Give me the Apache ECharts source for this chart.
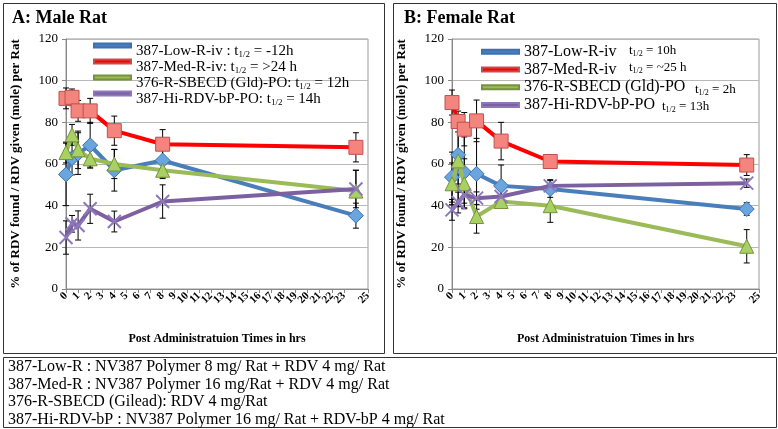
<!DOCTYPE html>
<html>
<head>
<meta charset="utf-8">
<script src="https://cdn.jsdelivr.net/npm/echarts@6/dist/echarts.min.js"></script>
<style>
  html, body { margin: 0; padding: 0; background: #fff; }
  #chart { width: 778px; height: 429px; }
</style>
</head>
<body>
<div id="chart"></div>
<script>
// sampling times (hours)
const times = [0, 0.5, 1, 2, 4, 8, 24];
const seriesNames = ['387-Low-R-iv', '387-Med-R-iv', '376-R-SBECD (Gld)-PO', '387-Hi-RDV-bP-PO'];

// panel A: male rat
const lowA = [55, 62.8, 65, 69, 57, 61.7, 35.2];
const medA = [91.5, 92, 85.5, 85.5, 76, 69.5, 68];
const sbecdA = [65.5, 74, 66.8, 62.5, 60, 57, 47];
const hiA = [24.7, 31.3, 30.5, 38.5, 32.4, 42, 48];
const lowErrA = [15, 8, 10, 11, 10, 8, 6];
const medErrA = [5, 4, 5, 6, 7, 7, 7];
const sbecdErrA = [5, 5, 9, 4, 7, 4, 10];
const hiErrA = [8, 4, 7, 7, 5, 8, 9];
const halfLifeA = ['-12h', '>24 h', '12h', '14h'];

// panel B: female rat
const lowB = [53.7, 64.4, 56, 55.3, 49.5, 48, 38.4];
const medB = [89.5, 80.4, 76.7, 80.7, 71, 61.2, 59.5];
const sbecdB = [50.5, 61.5, 50.5, 34.8, 42, 40, 20.5];
const hiB = [38, 41.5, 45.2, 43.6, 44.4, 49.5, 50.8];
const lowErrB = [12, 14, 17, 17, 10, 4, 3];
const medErrB = [6, 5, 8, 10, 9, 3, 5];
const sbecdErrB = [10, 22, 12, 8, 3, 8, 8];
const hiErrB = [5, 5, 4, 3, 3, 3, 2];
const halfLifeB = ['10h', '~25 h', '2h', '13h'];

const footnotes = [
  '387-Low-R : NV387 Polymer 8 mg/ Rat + RDV 4 mg/ Rat',
  '387-Med-R : NV387 Polymer 16 mg/Rat + RDV 4 mg/ Rat',
  '376-R-SBECD (Gilead): RDV 4 mg/Rat',
  '387-Hi-RDV-bP : NV387 Polymer 16 mg/ Rat + RDV-bP 4 mg/ Rat'
];

const SERIF = '"Liberation Serif", "Times New Roman", serif';
const lineColors = ['#4a7ebb', '#ff0000', '#9bbb59', '#7d60a0'];
const markers = [
  { symbol: 'diamond', size: 15, fill: '#6aa6dd', border: '#3c72b0' },
  { symbol: 'rect', size: 14, fill: '#f4857e', border: '#c0504d' },
  { symbol: 'triangle', size: 14, fill: '#a8d063', border: '#76933c' },
  { symbol: 'path://M0,0 L10,10 M10,0 L0,10', size: 13, fill: 'none', border: '#8e78bd' }
];

const chart = echarts.init(document.getElementById('chart'));

function lineSeries(idx, values, gridIdx) {
  const m = markers[idx];
  return {
    name: seriesNames[idx],
    type: 'line',
    xAxisIndex: gridIdx,
    yAxisIndex: gridIdx,
    data: times.map((t, i) => [t, values[i]]),
    symbol: m.symbol,
    symbolSize: m.size,
    showAllSymbol: true,
    lineStyle: { color: lineColors[idx], width: 4 },
    itemStyle: { color: m.fill, borderColor: m.border, borderWidth: idx === 3 ? 2 : 1 },
    z: 3 + idx
  };
}

function errSeries(values, errs, gridIdx) {
  return {
    type: 'custom',
    xAxisIndex: gridIdx,
    yAxisIndex: gridIdx,
    silent: true,
    z: 2,
    data: times.map((t, i) => [t, values[i] - errs[i], values[i] + errs[i]]),
    encode: { x: 0, y: [1, 2] },
    renderItem: function (params, api) {
      const lo = api.coord([api.value(0), api.value(1)]);
      const hi = api.coord([api.value(0), api.value(2)]);
      const w = 3;
      const st = { stroke: '#000', lineWidth: 1 };
      return {
        type: 'group',
        children: [
          { type: 'line', shape: { x1: lo[0], y1: lo[1], x2: hi[0], y2: hi[1] }, style: st },
          { type: 'line', shape: { x1: lo[0] - w, y1: lo[1], x2: lo[0] + w, y2: lo[1] }, style: st },
          { type: 'line', shape: { x1: hi[0] - w, y1: hi[1], x2: hi[0] + w, y2: hi[1] }, style: st }
        ]
      };
    }
  };
}

function xAxis(gridIdx) {
  return {
    type: 'value',
    gridIndex: gridIdx,
    min: 0,
    max: 25,
    interval: 1,
    name: 'Post Administratuion Times in hrs',
    nameLocation: 'middle',
    nameGap: 44,
    nameTextStyle: { fontFamily: SERIF, fontWeight: 'bold', fontSize: 12, color: '#000' },
    axisLine: { lineStyle: { color: '#888' } },
    axisTick: { length: 4, lineStyle: { color: '#888' } },
    axisLabel: {
      rotate: 45, fontFamily: SERIF, fontWeight: 'bold', fontSize: 11, color: '#000', margin: 5,
      showMaxLabel: true, showMinLabel: true, hideOverlap: false
    },
    splitLine: { show: false }
  };
}

function yAxis(gridIdx) {
  return {
    type: 'value',
    gridIndex: gridIdx,
    min: 0,
    max: 120,
    interval: 20,
    name: '% of RDV found / RDV given (mole) per Rat',
    nameLocation: 'middle',
    nameGap: 44,
    nameTextStyle: { fontFamily: SERIF, fontWeight: 'bold', fontSize: 13, color: '#000' },
    axisLine: { show: true, lineStyle: { color: '#888' } },
    axisTick: { show: true, length: 4, lineStyle: { color: '#888' } },
    axisLabel: { fontFamily: SERIF, fontSize: 13, color: '#000', margin: 8 },
    splitLine: { lineStyle: { color: '#b8b8b8' } }
  };
}

const legendItemsA = seriesNames.map((n, i) => ({ name: n, itemStyle: { color: lineColors[i] } }));
const legendItemsB = seriesNames.map((n, i) => ({ name: n, itemStyle: { color: lineColors[i] } }));
const labelA = ['387-Low-R-iv : ', '387-Med-R-iv: ', '376-R-SBECD (Gld)-PO: ', '387-Hi-RDV-bP-PO: '];

const halfLifeOffsetsB = [[629, 51], [629, 68], [695, 90], [662, 107]];

const graphics = [
  { type: 'rect', shape: { x: 3.5, y: 3.5, width: 381, height: 350 }, style: { fill: 'none', stroke: '#333', lineWidth: 1 } },
  { type: 'rect', shape: { x: 393.5, y: 3.5, width: 383, height: 350 }, style: { fill: 'none', stroke: '#333', lineWidth: 1 } },
  { type: 'rect', shape: { x: 3.5, y: 357.5, width: 773, height: 70 }, style: { fill: 'none', stroke: '#333', lineWidth: 1 } },
  { type: 'text', x: 12, y: 18, style: { text: 'A: Male Rat', font: 'bold 18px ' + SERIF, fill: '#000', verticalAlign: 'middle' } },
  { type: 'text', x: 404, y: 18, style: { text: 'B: Female Rat', font: 'bold 18px ' + SERIF, fill: '#000', verticalAlign: 'middle' } }
];
footnotes.forEach((t, i) => {
  graphics.push({ type: 'text', x: 8, y: 367 + i * 17.6, style: { text: t, font: '16px ' + SERIF, fill: '#000', verticalAlign: 'middle' } });
});
halfLifeB.forEach((h, i) => {
  graphics.push({
    type: 'text', x: halfLifeOffsetsB[i][0], y: halfLifeOffsetsB[i][1],
    style: {
      text: '{t|t}{s|1/2}{t| = ' + h + '}',
      verticalAlign: 'middle',
      rich: {
        t: { fontFamily: SERIF, fontSize: 13, color: '#000' },
        s: { fontFamily: SERIF, fontSize: 8, color: '#000', padding: [6, 0, 0, 0] }
      }
    }
  });
});

const option = {
  animation: false,
  backgroundColor: '#fff',
  grid: [
    { left: 66, top: 39, width: 302, height: 250, show: true, borderColor: '#999', borderWidth: 1 },
    { left: 452, top: 39, width: 307, height: 250, show: true, borderColor: '#999', borderWidth: 1 }
  ],
  xAxis: [xAxis(0), xAxis(1)],
  yAxis: [yAxis(0), yAxis(1)],
  legend: [
    {
      data: legendItemsA,
      orient: 'vertical',
      left: 88,
      top: 27,
      icon: 'rect',
      itemWidth: 37,
      itemHeight: 4,
      itemGap: -11,
      selectedMode: false,
      formatter: name => {
        const i = seriesNames.indexOf(name);
        return '{a|' + labelA[i] + 't}{s|1/2}{a| = ' + halfLifeA[i] + '}';
      },
      textStyle: {
        rich: {
          a: { fontFamily: SERIF, fontSize: 15, color: '#000', lineHeight: 18, padding: [12, 0, 0, 0] },
          s: { fontFamily: SERIF, fontSize: 9, color: '#000', padding: [18, 0, 0, 0] }
        }
      }
    },
    {
      data: legendItemsB,
      orient: 'vertical',
      left: 476,
      top: 38,
      icon: 'rect',
      itemWidth: 37,
      itemHeight: 4,
      itemGap: 0,
      selectedMode: false,
      textStyle: { fontFamily: SERIF, fontSize: 16, color: '#000', lineHeight: 17.7 }
    }
  ],
  graphic: graphics,
  series: [
    errSeries(lowA, lowErrA, 0),
    errSeries(medA, medErrA, 0),
    errSeries(sbecdA, sbecdErrA, 0),
    errSeries(hiA, hiErrA, 0),
    lineSeries(0, lowA, 0),
    lineSeries(1, medA, 0),
    lineSeries(2, sbecdA, 0),
    lineSeries(3, hiA, 0),
    errSeries(lowB, lowErrB, 1),
    errSeries(medB, medErrB, 1),
    errSeries(sbecdB, sbecdErrB, 1),
    errSeries(hiB, hiErrB, 1),
    lineSeries(0, lowB, 1),
    lineSeries(1, medB, 1),
    lineSeries(2, sbecdB, 1),
    lineSeries(3, hiB, 1)
  ]
};

chart.setOption(option);
</script>
</body>
</html>
